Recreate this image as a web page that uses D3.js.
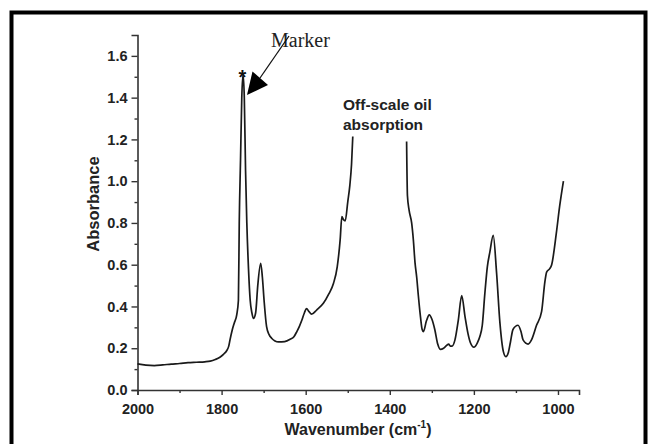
<!DOCTYPE html>
<html>
<head>
<meta charset="utf-8">
<script src="https://cdn.jsdelivr.net/npm/d3@7"></script>
<style>
  body { margin: 0; background: #fff; }
  svg { display: block; }
</style>
</head>
<body>
<div id="chart"></div>
<script>
// Spectrum, left part (before the off-scale oil band)
const waveLeft = [2000, 1980, 1960, 1940, 1920, 1900, 1880, 1860, 1840, 1827, 1815, 1804, 1795, 1788, 1783, 1780,
    1775, 1770, 1764, 1760, 1758, 1755, 1752, 1749, 1746, 1743, 1740, 1736, 1732, 1728, 1724, 1719, 1714, 1707,
    1703, 1699, 1693, 1687, 1681, 1673, 1665, 1650, 1637, 1628, 1621, 1615, 1609, 1603, 1598, 1592, 1586, 1574,
    1558, 1545, 1534, 1525, 1518, 1514, 1510, 1506, 1500, 1495, 1491, 1488];
const absLeft = [0.125, 0.119, 0.117, 0.120, 0.124, 0.127, 0.131, 0.133, 0.135, 0.138, 0.146, 0.157, 0.172, 0.188, 0.21, 0.24,
    0.285, 0.32, 0.36, 0.43, 0.80, 1.10, 1.40, 1.51, 1.40, 1.05, 0.80, 0.58, 0.43, 0.37, 0.343, 0.37, 0.50, 0.607,
    0.54, 0.43, 0.303, 0.265, 0.248, 0.235, 0.230, 0.232, 0.243, 0.255, 0.28, 0.305, 0.335, 0.37, 0.39, 0.375, 0.363, 0.383,
    0.415, 0.46, 0.51, 0.59, 0.72, 0.83, 0.815, 0.81, 0.90, 0.98, 1.08, 1.214];

// Spectrum, right part (after the off-scale band)
const waveRight = [1360, 1358, 1354, 1348, 1344, 1340, 1336, 1332, 1327, 1323, 1320, 1313, 1306, 1300, 1293, 1286,
    1280, 1272, 1264, 1260, 1256, 1252, 1245, 1237, 1229, 1221, 1214, 1208, 1200, 1192, 1186, 1180, 1174, 1168,
    1162, 1154, 1146, 1138, 1130, 1124, 1118, 1113, 1107, 1095, 1088, 1083, 1071, 1063, 1051, 1039, 1031, 1027,
    1020, 1015, 1004, 996, 987];
const absRight = [1.19, 0.93, 0.86, 0.80, 0.72, 0.61, 0.54, 0.45, 0.35, 0.29, 0.28, 0.33, 0.36, 0.34, 0.29, 0.22,
    0.195, 0.20, 0.215, 0.22, 0.21, 0.21, 0.24, 0.335, 0.452, 0.35, 0.27, 0.225, 0.205, 0.225, 0.255, 0.31, 0.46, 0.59,
    0.66, 0.74, 0.56, 0.32, 0.185, 0.16, 0.18, 0.23, 0.29, 0.31, 0.28, 0.24, 0.22, 0.24, 0.31, 0.375, 0.52, 0.565,
    0.58, 0.60, 0.75, 0.88, 1.00];

const xMajor = [2000, 1800, 1600, 1400, 1200, 1000];
const xMinor = [1900, 1700, 1500, 1300, 1100];
const yMajor = [0.0, 0.2, 0.4, 0.6, 0.8, 1.0, 1.2, 1.4, 1.6];
const yMinor = [0.1, 0.3, 0.5, 0.7, 0.9, 1.1, 1.3, 1.5];

const W = 649, H = 444;
const svg = d3.select('#chart').append('svg')
    .attr('width', W)
    .attr('height', H);

const font = 'Arial, "Liberation Sans", sans-serif';

// outer frame
svg.append('rect')
    .attr('x', 11.5).attr('y', 12.5)
    .attr('width', 634).attr('height', 470)
    .attr('fill', 'none')
    .attr('stroke', '#000')
    .attr('stroke-width', 4);

const x = d3.scaleLinear().domain([2000, 950]).range([137.5, 579]);
const y = d3.scaleLinear().domain([0, 1.7]).range([390, 35]);

// axes
svg.append('g')
    .attr('transform', `translate(0,${y(0)})`)
    .call(d3.axisBottom(x).tickValues(xMajor).tickSize(5).tickPadding(9).tickFormat(d3.format('d')));
svg.append('g')
    .attr('transform', `translate(0,${y(0)})`)
    .call(d3.axisBottom(x).tickValues(xMinor).tickSize(3).tickFormat(''))
    .select('.domain').remove();

svg.append('g')
    .attr('transform', `translate(${x(2000)},0)`)
    .call(d3.axisLeft(y).tickValues(yMajor).tickSize(6).tickPadding(4).tickFormat(d3.format('.1f')));
svg.append('g')
    .attr('transform', `translate(${x(2000)},0)`)
    .call(d3.axisLeft(y).tickValues(yMinor).tickSize(3).tickFormat(''))
    .select('.domain').remove();

svg.selectAll('.domain')
    .attr('stroke', '#333')
    .attr('stroke-width', 1.6);
svg.selectAll('.tick line')
    .attr('stroke', '#333')
    .attr('stroke-width', 1.4);
svg.selectAll('.tick text')
    .attr('font-family', font)
    .attr('font-weight', 'bold')
    .attr('font-size', 14.5)
    .attr('fill', '#222');

// axis titles
const xTitle = svg.append('text')
    .attr('x', 358)
    .attr('y', 435)
    .attr('text-anchor', 'middle')
    .attr('font-family', font)
    .attr('font-weight', 'bold')
    .attr('font-size', 16)
    .attr('fill', '#222');
xTitle.append('tspan').text('Wavenumber (cm');
xTitle.append('tspan').attr('dy', -7).attr('font-size', 10).text('-1');
xTitle.append('tspan').attr('dy', 7).text(')');

svg.append('text')
    .attr('transform', 'translate(99,204) rotate(-90)')
    .attr('text-anchor', 'middle')
    .attr('font-family', font)
    .attr('font-weight', 'bold')
    .attr('font-size', 16.5)
    .attr('fill', '#222')
    .text('Absorbance');

// spectrum
const line = d3.line()
    .x(d => x(d[0]))
    .y(d => y(d[1]))
    .curve(d3.curveMonotoneX);

[[waveLeft, absLeft], [waveRight, absRight]].forEach(([w, a]) => {
    svg.append('path')
        .datum(w.map((v, i) => [v, a[i]]))
        .attr('d', line)
        .attr('fill', 'none')
        .attr('stroke', '#1a1a1a')
        .attr('stroke-width', 1.7)
        .attr('stroke-linejoin', 'round');
});

// annotations
svg.append('text')
    .attr('x', 242.5).attr('y', 84)
    .attr('text-anchor', 'middle')
    .attr('font-family', font)
    .attr('font-weight', 'bold')
    .attr('font-size', 20)
    .attr('fill', '#111')
    .text('*');

svg.append('text')
    .attr('x', 271).attr('y', 47)
    .attr('font-family', '"Liberation Serif", "Times New Roman", serif')
    .attr('font-size', 20)
    .attr('fill', '#222')
    .text('Marker');

// arrow from "Marker" to the starred peak
svg.append('line')
    .attr('x1', 289).attr('y1', 36)
    .attr('x2', 260).attr('y2', 78)
    .attr('stroke', '#111')
    .attr('stroke-width', 1.3);
svg.append('path')
    .attr('d', 'M247,95 L252.5,71.5 L268,85 Z')
    .attr('fill', '#000');

const oil = svg.append('text')
    .attr('font-family', font)
    .attr('font-weight', 'bold')
    .attr('font-size', 15.5)
    .attr('fill', '#222');
oil.append('tspan').attr('x', 343).attr('y', 110).text('Off-scale oil');
oil.append('tspan').attr('x', 343).attr('y', 130).text('absorption');
</script>
</body>
</html>
